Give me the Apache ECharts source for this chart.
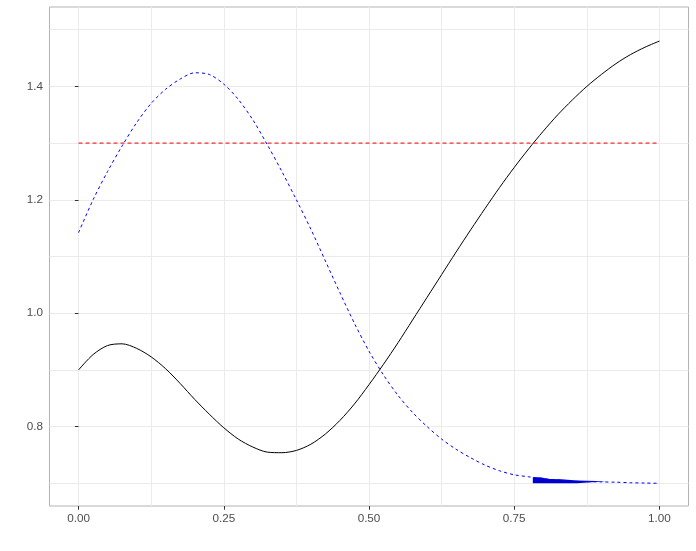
<!DOCTYPE html>
<html>
<head>
<meta charset="utf-8">
<script src="https://cdn.jsdelivr.net/npm/echarts@6/dist/echarts.min.js"></script>
<style>
html,body{margin:0;padding:0;background:#fff;}
#chart{width:696px;height:551px;}
</style>
</head>
<body>
<div id="chart"></div>
<script>
// ---- data ----
const xs = [0.000,0.025,0.050,0.075,0.100,0.125,0.150,0.175,0.200,0.225,
            0.250,0.275,0.300,0.325,0.350,0.375,0.400,0.425,0.450,0.475,
            0.500,0.525,0.550,0.575,0.600,0.625,0.650,0.675,0.700,0.725,
            0.750,0.775,0.800,0.825,0.850,0.875,0.900,0.925,0.950,0.975,1.000];
const blackY = [0.900,0.927,0.943,0.946,0.938,0.923,0.902,0.876,0.848,0.822,
                0.798,0.778,0.764,0.755,0.754,0.758,0.769,0.787,0.811,0.840,
                0.874,0.910,0.948,0.988,1.028,1.068,1.108,1.147,1.185,1.222,
                1.257,1.290,1.321,1.350,1.376,1.400,1.421,1.440,1.456,1.469,1.480];
const blueY = [1.142,1.200,1.250,1.295,1.336,1.370,1.395,1.413,1.424,1.421,
               1.404,1.377,1.341,1.297,1.250,1.200,1.148,1.092,1.036,0.982,
               0.933,0.891,0.855,0.825,0.800,0.778,0.760,0.745,0.732,0.722,
               0.715,0.7115,0.708,0.706,0.704,0.703,0.7025,0.702,0.701,0.7005,0.700];
const refLineY = 1.3;
const refLineX = [0, 1];
const fillX = [0.782,0.7945,0.8105,0.8306,0.858,0.908];
const fillY = [0.7106,0.7078,0.7070,0.7050,0.7035,0.7035];
const fillBase = 0.70;
const xTicks = [0, 0.25, 0.5, 0.75, 1];
const xMinor = [0.125, 0.375, 0.625, 0.875];
const yTicks = [0.8, 1.0, 1.2, 1.4];
const yMinor = [0.7, 0.9, 1.1, 1.3, 1.5];

const zip = (a, b) => a.map((v, i) => [v, b[i]]);
const FONT = 'Liberation Sans, Arial, sans-serif';
const GRIDC = '#ebebeb';

const chart = echarts.init(document.getElementById('chart'), null, {renderer: 'canvas'});
const majorAxisX = {
  type: 'value', min: -0.05, max: 1.05, gridIndex: 0,
  axisLine: {show: false},
  axisTick: {show: true, customValues: xTicks, length: 3.7, lineStyle: {color: '#333333', width: 1}},
  axisLabel: {show: true, customValues: xTicks, formatter: v => v.toFixed(2), color: '#4d4d4d',
              fontSize: 11.7, fontFamily: FONT, margin: 6.6},
  splitLine: {show: true, lineStyle: {color: GRIDC, width: 1}}
};
const minorAxisX = {
  type: 'value', min: -0.05, max: 1.05, gridIndex: 0, position: 'bottom',
  axisLine: {show: false},
  axisTick: {show: false, customValues: xMinor},
  axisLabel: {show: false, customValues: xMinor},
  splitLine: {show: true, lineStyle: {color: GRIDC, width: 1}}
};
const majorAxisY = {
  type: 'value', min: 0.66, max: 1.54, gridIndex: 0,
  axisLine: {show: false},
  axisTick: {show: true, customValues: yTicks, length: 3.7, lineStyle: {color: '#333333', width: 1}},
  axisLabel: {show: true, customValues: yTicks, formatter: v => v.toFixed(1), color: '#4d4d4d',
              fontSize: 11.7, fontFamily: FONT, margin: 6.6},
  splitLine: {show: true, lineStyle: {color: GRIDC, width: 1}}
};
const minorAxisY = {
  type: 'value', min: 0.66, max: 1.54, gridIndex: 0, position: 'left',
  axisLine: {show: false},
  axisTick: {show: false, customValues: yMinor},
  axisLabel: {show: false, customValues: yMinor},
  splitLine: {show: true, lineStyle: {color: GRIDC, width: 1}}
};

chart.setOption({
  animation: false,
  backgroundColor: '#ffffff',
  grid: {left: 49.5, right: 7.5, top: 7, bottom: 45, show: true, borderColor: '#b3b3b3', borderWidth: 1, backgroundColor: 'transparent'},
  xAxis: [majorAxisX, minorAxisX],
  yAxis: [majorAxisY, minorAxisY],
  series: [
    {
      name: 'fill', type: 'line', xAxisIndex: 0, yAxisIndex: 0,
      data: zip(fillX, fillY), step: 'end', showSymbol: false,
      lineStyle: {width: 0, color: '#0000cc'},
      areaStyle: {color: '#0000cc', opacity: 1, origin: fillBase},
      z: 3
    },
    {
      name: 'blue', type: 'line', xAxisIndex: 0, yAxisIndex: 0,
      data: zip(xs, blueY), smooth: 0.3, showSymbol: false,
      lineStyle: {color: '#0000ff', width: 1, type: [3, 3]},
      z: 4
    },
    {
      name: 'black', type: 'line', xAxisIndex: 0, yAxisIndex: 0,
      data: zip(xs, blackY), smooth: 0.3, showSymbol: false,
      lineStyle: {color: '#000000', width: 1},
      z: 5
    },
    {
      name: 'ref', type: 'line', xAxisIndex: 0, yAxisIndex: 0,
      data: refLineX.map(x => [x, refLineY]), showSymbol: false,
      lineStyle: {color: '#ee0000', width: 1, type: [4, 3]},
      z: 6
    }
  ]
});
</script>
</body>
</html>
